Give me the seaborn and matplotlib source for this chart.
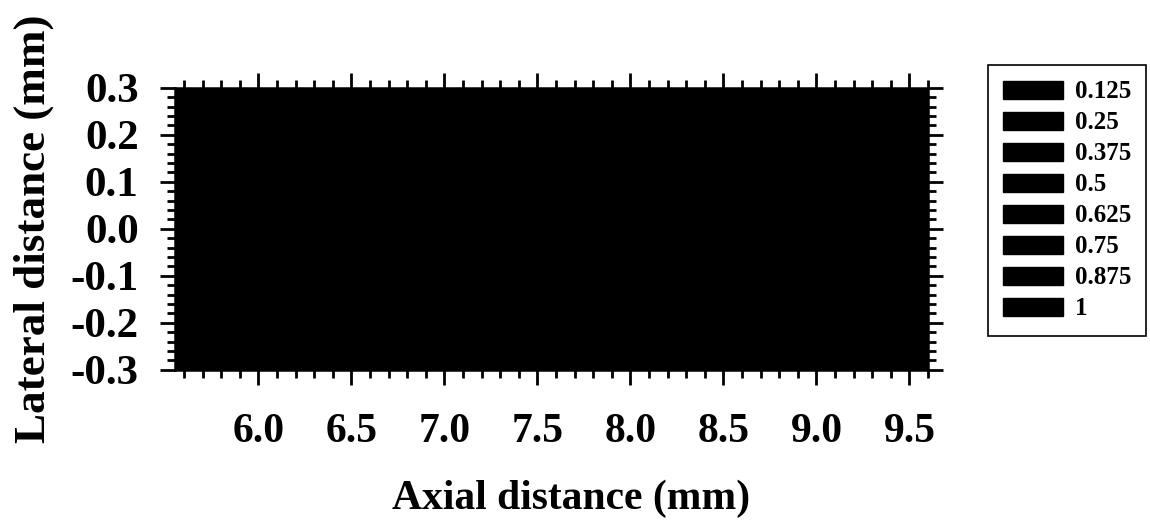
import numpy as np
import matplotlib
matplotlib.use('Agg')
import matplotlib.pyplot as plt
import matplotlib.ticker as mtick
import matplotlib.patches as mpatches
import seaborn as sns

# grid of the scanned field (mm) and normalised amplitude
axial_mm = [5.55, 6.0, 6.5, 7.0, 7.5, 8.0, 8.5, 9.0, 9.6]
lateral_mm = [-0.3, -0.2, -0.1, 0.0, 0.1, 0.2, 0.3]
amplitude = [
    [0.10, 0.12, 0.15, 0.18, 0.20, 0.18, 0.15, 0.12, 0.10],
    [0.30, 0.35, 0.42, 0.48, 0.50, 0.47, 0.40, 0.34, 0.28],
    [0.60, 0.68, 0.78, 0.85, 0.88, 0.84, 0.76, 0.66, 0.58],
    [0.75, 0.84, 0.93, 0.98, 1.00, 0.97, 0.90, 0.81, 0.72],
    [0.60, 0.68, 0.78, 0.85, 0.88, 0.84, 0.76, 0.66, 0.58],
    [0.30, 0.35, 0.42, 0.48, 0.50, 0.47, 0.40, 0.34, 0.28],
    [0.10, 0.12, 0.15, 0.18, 0.20, 0.18, 0.15, 0.12, 0.10],
]
levels = [0.0, 0.125, 0.25, 0.375, 0.5, 0.625, 0.75, 0.875, 1.0]
level_labels = ['0.125', '0.25', '0.375', '0.5', '0.625', '0.75', '0.875', '1']

sns.set_theme(style='ticks')
plt.rcParams['font.family'] = ['Liberation Serif', 'DejaVu Serif']
plt.rcParams['font.weight'] = 'bold'
plt.rcParams['axes.unicode_minus'] = False
plt.rcParams['text.color'] = 'black'
plt.rcParams['axes.labelcolor'] = 'black'
plt.rcParams['xtick.color'] = 'black'
plt.rcParams['ytick.color'] = 'black'

band_colors = ['black'] * len(level_labels)

fig = plt.figure(figsize=(11.5, 5.23), dpi=100)
ax = fig.add_axes([0.152, 0.293, 0.655, 0.539])

X, Y = np.meshgrid(axial_mm, lateral_mm)
ax.contourf(X, Y, np.array(amplitude), levels=levels, colors=band_colors, extend='neither')

ax.set_xlim(5.55, 9.6)
ax.set_ylim(-0.3, 0.3)
ax.set_xticks([6.0, 6.5, 7.0, 7.5, 8.0, 8.5, 9.0, 9.5])
ax.set_yticks([-0.3, -0.2, -0.1, 0.0, 0.1, 0.2, 0.3])
ax.xaxis.set_major_formatter(mtick.FormatStrFormatter('%.1f'))
ax.yaxis.set_major_formatter(mtick.FormatStrFormatter('%.1f'))
ax.xaxis.set_minor_locator(mtick.MultipleLocator(0.1))
ax.yaxis.set_minor_locator(mtick.MultipleLocator(0.02))

ax.tick_params(which='both', direction='out', top=True, right=True, color='black', width=2)
ax.tick_params(which='major', length=11)
ax.tick_params(which='minor', length=6)
ax.tick_params(axis='x', which='major', labelsize=30, pad=20)
ax.tick_params(axis='y', which='major', labelsize=31, pad=15)
for lab in ax.get_xticklabels() + ax.get_yticklabels():
    lab.set_fontweight('bold')
for sp in ax.spines.values():
    sp.set_linewidth(1.8)
    sp.set_color('black')

ax.set_xlabel('Axial distance (mm)', fontsize=30, fontweight='bold')
ax.xaxis.set_label_coords(0.526, -0.39)
ax.set_ylabel('Lateral distance (mm)', fontsize=32.5, fontweight='bold', labelpad=12)

handles = [mpatches.Patch(facecolor=c, edgecolor=c) for c in band_colors]
leg = fig.legend(handles, level_labels, loc='upper left', bbox_to_anchor=(0.859, 0.876),
                 borderaxespad=0,
                 prop={'family': 'Liberation Serif', 'weight': 'bold', 'size': 18},
                 frameon=True, fancybox=False, edgecolor='black', framealpha=1,
                 handlelength=2.4, handleheight=0.72, labelspacing=0.32,
                 handletextpad=0.45, borderpad=0.62)
leg.get_frame().set_linewidth(1.2)

fig.savefig('out.png', dpi=100)
